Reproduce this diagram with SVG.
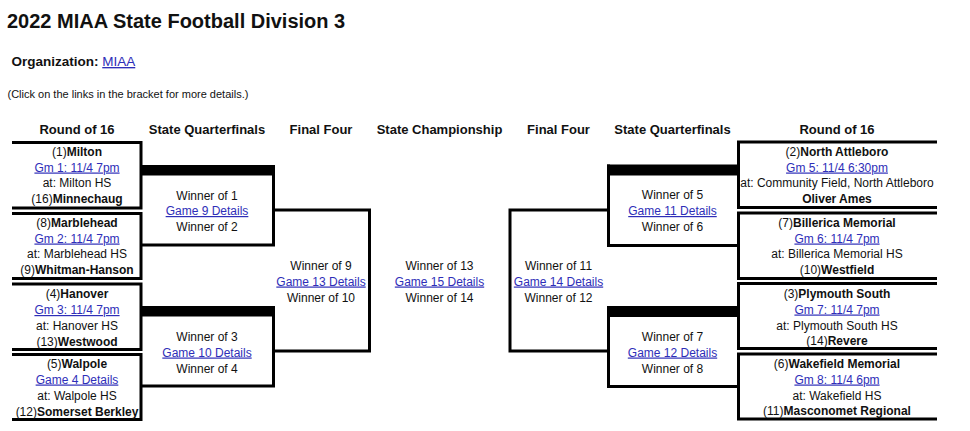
<svg xmlns="http://www.w3.org/2000/svg" width="970" height="431" viewBox="0 0 970 431">
<style>
text{font-family:"Liberation Sans",Arial,sans-serif;fill:#111}
.t{font-size:20px;font-weight:bold}
.org{font-size:13.5px;font-weight:bold}
.small{font-size:11px}
.h{font-size:13px;font-weight:bold;text-anchor:middle}
.b{font-size:12px;text-anchor:middle}
.bd{font-weight:bold}
.lk{fill:#2e2eb8;text-decoration:underline}
.ln{stroke:#000;stroke-width:3;fill:none}
.bar{fill:#000}
</style>
<rect width="970" height="431" fill="#fff"/>
<text class="t" x="7" y="28">2022 MIAA State Football Division 3</text>
<text class="org" x="11.5" y="66">Organization: <tspan class="lk" font-weight="normal">MIAA</tspan></text>
<text class="small" x="7.5" y="97.5">(Click on the links in the bracket for more details.)</text>
<g id="headers">
<text class="h" x="77" y="133.5">Round of 16</text>
<text class="h" x="207" y="133.5">State Quarterfinals</text>
<text class="h" x="321" y="133.5">Final Four</text>
<text class="h" x="439.5" y="133.5">State Championship</text>
<text class="h" x="558.5" y="133.5">Final Four</text>
<text class="h" x="672.5" y="133.5">State Quarterfinals</text>
<text class="h" x="837" y="133.5">Round of 16</text>
</g>
<g id="connectors">
<path class="ln" d="M275 210H369.5V351H275"/>
<path class="ln" d="M608 210H510V351H608"/>
</g>
<g id="g1">
<path class="ln" d="M12 142.5H141V208H12"/>
<text class="b" x="77" y="155.5">(1)<tspan class="bd">Milton</tspan></text>
<text class="b lk" x="77" y="171.5">Gm 1: 11/4 7pm</text>
<text class="b" x="77" y="187">at: Milton HS</text>
<text class="b" x="77" y="203">(16)<tspan class="bd">Minnechaug</tspan></text>
</g>
<g id="g2">
<path class="ln" d="M12 213.5H141V278.5H12"/>
<text class="b" x="77" y="226.5">(8)<tspan class="bd">Marblehead</tspan></text>
<text class="b lk" x="77" y="242.5">Gm 2: 11/4 7pm</text>
<text class="b" x="77" y="258">at: Marblehead HS</text>
<text class="b" x="77" y="274">(9)<tspan class="bd">Whitman-Hanson</tspan></text>
</g>
<g id="g3">
<path class="ln" d="M12 284H141V349.5H12"/>
<text class="b" x="77" y="298">(4)<tspan class="bd">Hanover</tspan></text>
<text class="b lk" x="77" y="314">Gm 3: 11/4 7pm</text>
<text class="b" x="77" y="329.5">at: Hanover HS</text>
<text class="b" x="77" y="345.5">(13)<tspan class="bd">Westwood</tspan></text>
</g>
<g id="g4">
<path class="ln" d="M12 354.5H141V419.5H12"/>
<text class="b" x="77" y="367.5">(5)<tspan class="bd">Walpole</tspan></text>
<text class="b lk" x="77" y="383.5">Game 4 Details</text>
<text class="b" x="77" y="399.5">at: Walpole HS</text>
<text class="b" x="77" y="415.5">(12)<tspan class="bd">Somerset Berkley</tspan></text>
</g>
<g id="g9">
<rect class="bar" x="142" y="165" width="133" height="10.5"/>
<path class="ln" d="M142 245H273.5V165"/>
<text class="b" x="207" y="199.5">Winner of 1</text>
<text class="b lk" x="207" y="215">Game 9 Details</text>
<text class="b" x="207" y="231">Winner of 2</text>
</g>
<g id="g10">
<rect class="bar" x="142" y="306" width="133" height="10.5"/>
<path class="ln" d="M142 386H273.5V306"/>
<text class="b" x="207" y="340.5">Winner of 3</text>
<text class="b lk" x="207" y="356.5">Game 10 Details</text>
<text class="b" x="207" y="372.5">Winner of 4</text>
</g>
<g id="g13">
<text class="b" x="321" y="269.5">Winner of 9</text>
<text class="b lk" x="321" y="285.5">Game 13 Details</text>
<text class="b" x="321" y="301.5">Winner of 10</text>
</g>
<g id="g15">
<text class="b" x="439.5" y="269.5">Winner of 13</text>
<text class="b lk" x="439.5" y="285.5">Game 15 Details</text>
<text class="b" x="439.5" y="301.5">Winner of 14</text>
</g>
<g id="g14">
<text class="b" x="558.5" y="269.5">Winner of 11</text>
<text class="b lk" x="558.5" y="285.5">Game 14 Details</text>
<text class="b" x="558.5" y="301.5">Winner of 12</text>
</g>
<g id="g11">
<rect class="bar" x="607" y="164.5" width="131" height="11"/>
<path class="ln" d="M738 245.5H608.5V164.5"/>
<text class="b" x="672.5" y="198.5">Winner of 5</text>
<text class="b lk" x="672.5" y="215">Game 11 Details</text>
<text class="b" x="672.5" y="231">Winner of 6</text>
</g>
<g id="g12">
<rect class="bar" x="607" y="306" width="131" height="11"/>
<path class="ln" d="M738 386.5H608.5V306"/>
<text class="b" x="672.5" y="341">Winner of 7</text>
<text class="b lk" x="672.5" y="356.5">Game 12 Details</text>
<text class="b" x="672.5" y="372.5">Winner of 8</text>
</g>
<g id="g5">
<path class="ln" d="M937 142H738.5V207.5H937"/>
<text class="b" x="837" y="155.5">(2)<tspan class="bd">North Attleboro</tspan></text>
<text class="b lk" x="837" y="171.5">Gm 5: 11/4 6:30pm</text>
<text class="b" x="837" y="187">at: Community Field, North Attleboro</text>
<text class="b bd" x="837" y="203">Oliver Ames</text>
</g>
<g id="g6">
<path class="ln" d="M937 213H738.5V278.5H937"/>
<text class="b" x="837" y="226.5">(7)<tspan class="bd">Billerica Memorial</tspan></text>
<text class="b lk" x="837" y="242.5">Gm 6: 11/4 7pm</text>
<text class="b" x="837" y="258">at: Billerica Memorial HS</text>
<text class="b" x="837" y="274">(10)<tspan class="bd">Westfield</tspan></text>
</g>
<g id="g7">
<path class="ln" d="M937 283.5H738.5V348.5H937"/>
<text class="b" x="837" y="297.5">(3)<tspan class="bd">Plymouth South</tspan></text>
<text class="b lk" x="837" y="313.5">Gm 7: 11/4 7pm</text>
<text class="b" x="837" y="329.5">at: Plymouth South HS</text>
<text class="b" x="837" y="345">(14)<tspan class="bd">Revere</tspan></text>
</g>
<g id="g8">
<path class="ln" d="M937 354H738.5V419H937"/>
<text class="b" x="837" y="367.5">(6)<tspan class="bd">Wakefield Memorial</tspan></text>
<text class="b lk" x="837" y="383.5">Gm 8: 11/4 6pm</text>
<text class="b" x="837" y="399.5">at: Wakefield HS</text>
<text class="b" x="837" y="415">(11)<tspan class="bd">Masconomet Regional</tspan></text>
</g>
</svg>
